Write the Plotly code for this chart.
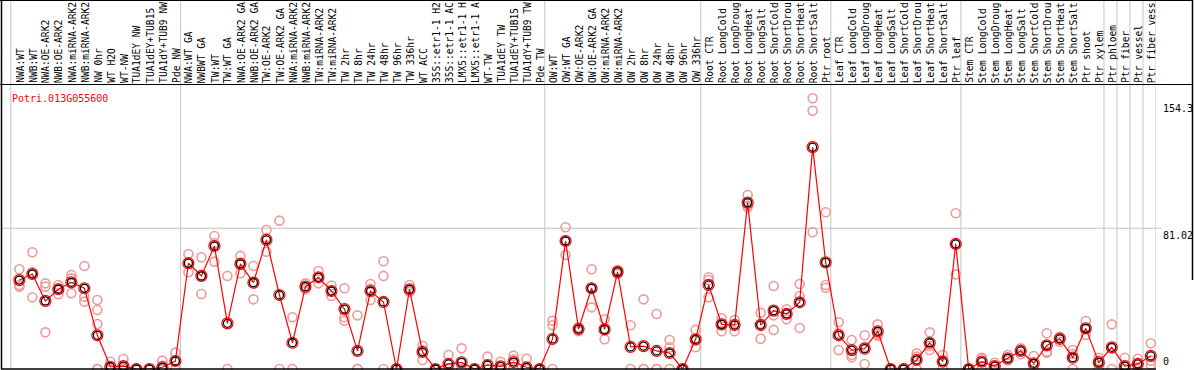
import plotly.graph_objects as go

gene = "Potri.013G055600"

categories = [
    "NWA:WT", "NWB:WT", "NWA:OE-ARK2", "NWB:OE-ARK2", "NWA:miRNA-ARK2", "NWB:miRNA-ARK2",
    "NW 0hr", "WT H2O", "WT-NW", "TUA1dEY NW", "TUA1dEY+TUB15 NW", "TUA1dY+TUB9 NW", "Pde NW",
    "NWA:WT GA", "NWBWT GA", "TW:WT", "TW:WT GA", "NWA:OE-ARK2 GA", "NWB:OE-ARK2 GA",
    "TW:OE-ARK2", "TW:OE-ARK2 GA", "NWA:miRNA-ARK2 GA", "NWB:miRNA-ARK2 GA", "TW:miRNA-ARK2",
    "TW:miRNA-ARK2 GA", "TW 2hr", "TW 8hr", "TW 24hr", "TW 48hr", "TW 96hr", "TW 336hr",
    "WT ACC", "35S::etr1-1 H2O", "35S::etr1-1 ACC", "LMX5::etr1-1 H2O", "LMX5::etr1-1 ACC",
    "WT-TW", "TUA1dEY TW", "TUA1dEY+TUB15 TW", "TUA1dY+TUB9 TW", "Pde TW",
    "OW:WT", "OW:WT GA", "OW:OE-ARK2", "OW:OE-ARK2 GA", "OW:miRNA-ARK2", "OW:miRNA-ARK2 GA",
    "OW 2hr", "OW 8hr", "OW 24hr", "OW 48hr", "OW 96hr", "OW 336hr",
    "Root CTR", "Root LongCold", "Root LongDrought", "Root LongHeat", "Root LongSalt",
    "Root ShortCold", "Root ShortDrought", "Root ShortHeat", "Root ShortSalt", "Ptr root",
    "Leaf CTR", "Leaf LongCold", "Leaf LongDrought", "Leaf LongHeat", "Leaf LongSalt",
    "Leaf ShortCold", "Leaf ShortDrought", "Leaf ShortHeat", "Leaf ShortSalt", "Ptr leaf",
    "Stem CTR", "Stem LongCold", "Stem LongDrought", "Stem LongHeat", "Stem LongSalt",
    "Stem ShortCold", "Stem ShortDrought", "Stem ShortHeat", "Stem ShortSalt", "Ptr shoot",
    "Ptr xylem", "Ptr phloem", "Ptr fiber", "Ptr vessel", "Ptr fiber vessel",
]

mean_values = [
    51.2, 54.7, 39.2, 45.9, 49.9, 46.5, 19.4, 1.3, 1.7, 0, 0, 1.0, 4.6,
    60.9, 53.6, 70.8, 26.3, 60.5, 49.7, 74.3, 42.6, 15.1, 47.4, 52.8, 44.9, 34.5, 10.4,
    44.9, 38.6, 0, 45.9, 9.8, 0, 2.9, 3.8, 0, 2.3, 1.5, 4.0, 1.0, 0,
    17.3, 73.7, 23.0, 46.5, 22.8, 55.9, 12.7, 13.2, 10.4, 9.2, 0, 17.1,
    48.4, 25.7, 25.3, 95.8, 25.3, 33.6, 31.7, 38.4, 127.7, 61.4,
    19.4, 10.9, 11.7, 21.7, 0, 0, 5.2, 15.1, 4.2, 72.0,
    0, 4.2, 1.7, 6.2, 10.4, 3.3, 13.6, 17.4, 6.5, 23.4,
    3.8, 12.5, 1.7, 2.9, 7.5,
]

replicate_values = [
    [57.4, 48.4, 47.4], [67.2, 41.3, 55.6], [49.3, 47.4, 21.1], [48.4, 43.0, 46.3],
    [54.1, 52.2, 43.6], [59.3, 41.6, 38.8], [39.7, 34.0, 25.9, 0, 0], [4.2, 0, 0],
    [5.8, 0, 0], [0, 0, 0], [0, 0, 0], [4.8, 1.9, 0], [9.4, 4.4, 0],
    [66.2, 55.7, 61.0], [64.3, 43.2, 53.3], [76.6, 72.4, 61.8], [53.6, 0],
    [65.1, 55.1, 61.3], [59.3, 40.1, 49.7], [80.0, 67.5, 75.4], [85.4, 0],
    [29.8, 0], [49.3, 45.9, 47.0], [56.4, 49.3, 52.7], [48.0, 42.0, 44.7],
    [46.5, 29.8, 27.8], [30.9, 0, 0], [48.9, 39.7, 46.1], [62.0, 53.6, 0], [0, 0, 0],
    [48.4, 44.5, 44.8], [13.4, 5.2, 10.8], [0, 0, 0], [8.1, 0, 0.6], [11.9, 0, 0],
    [0, 0, 0], [7.1, 0, 0], [4.2, 0, 0], [7.7, 5.6, 0], [5.9, 0, 0], [0, 0, 0],
    [27.8, 25.2, 0], [81.6, 65.6, 74.0], [24.0, 21.7, 23.3], [57.4, 35.5, 46.6],
    [28.6, 17.1, 22.7], [57.0, 54.7, 56.0], [25.2, 0], [40.1, 0, 0], [31.7, 0, 0],
    [16.7, 12.5, 0], [0, 0, 0], [22.5, 12.5, 16.3],
    [52.8, 51.2, 41.3], [29.2, 21.7, 26.2], [28.2, 21.7, 26.0], [100.2, 93.1, 94.1],
    [32.4, 17.4, 26.1], [47.8, 30.9, 22.5], [34.4, 28.6, 32.1], [48.9, 42.0, 23.6],
    [155.9, 148.7, 78.7], [90.2, 48.4, 46.8],
    [26.9, 20.6, 10.9], [16.7, 8.1, 6.7], [19.4, 2.9, 12.8], [25.7, 19.2, 20.2],
    [0, 0, 0], [0, 0, 0], [9.0, 7.1, 0], [21.1, 10.9, 13.3], [8.1, 5.2, 0],
    [89.7, 54.5, 71.8],
    [0, 0, 0], [6.5, 0, 6.1], [3.6, 0, 1.5], [8.1, 5.6, 4.9], [11.9, 8.5, 10.8],
    [7.5, 0, 2.4], [20.6, 10.0, 9.4], [18.6, 15.7, 17.9], [10.9, 0, 8.6],
    [27.6, 19.6, 23.0],
    [6.5, 0, 4.9], [25.7, 0, 11.8], [6.5, 0, 0], [5.9, 3.6, 0], [14.8, 4.8, 2.3],
]

# group separators (positions between categories)
separators = [-0.66, 12.4, 40.4, 52.4, 62.4, 72.4, 83.4, 84.4, 85.4, 86.4, 87.4]
y_tick_values = [0, 81.02, 154.3]
y_tick_labels = ["0", "81.02", "154.3"]
LABEL_CHARS = 14  # visible length of the column headers

FONT = "DejaVu Sans Mono"
W, H = 1194, 370
ML, MR, MT, MB = 1, 38, 85, 1
PW = W - ML - MR
PH = H - MT - MB

xs = list(range(len(categories)))
rep_x, rep_y = [], []
for i, vals in enumerate(replicate_values):
    for v in vals:
        rep_x.append(i)
        rep_y.append(v)

fig = go.Figure()
fig.add_trace(go.Scatter(
    x=rep_x, y=rep_y, mode="markers", cliponaxis=False,
    marker=dict(symbol="circle-open", size=9, color="#ee9a9a", line=dict(width=1.6, color="#ee9a9a")),
    hoverinfo="skip", showlegend=False,
))
fig.add_trace(go.Scatter(
    x=xs, y=mean_values, mode="lines+markers", cliponaxis=False,
    line=dict(color="#ff0000", width=1.2),
    marker=dict(symbol="circle-open", size=11, color="#ff0000", line=dict(width=1.2, color="#ff0000")),
    showlegend=False,
))
fig.add_trace(go.Scatter(
    x=xs, y=mean_values, mode="markers", cliponaxis=False,
    marker=dict(symbol="circle-open", size=8, color="#000000", line=dict(width=1.3, color="#000000")),
    showlegend=False,
))

shapes = []
top_paper = (H - MB) / PH  # top of page in paper coords
for s in separators:
    shapes.append(dict(type="line", xref="x", yref="paper", x0=s, x1=s, y0=0, y1=top_paper,
                       line=dict(color="#c4c4c4", width=1), layer="below"))
# horizontal grid at middle tick
shapes.append(dict(type="line", xref="paper", yref="y", x0=0, x1=(1162 - ML) / PW,
                   y0=y_tick_values[1], y1=y_tick_values[1], line=dict(color="#c4c4c4", width=1), layer="below"))
# frame lines
shapes.append(dict(type="line", xref="paper", yref="paper", x0=-ML / PW, x1=(1193 - ML) / PW,
                   y0=1 + 0.5 / PH, y1=1 + 0.5 / PH, line=dict(color="black", width=1)))
shapes.append(dict(type="line", xref="paper", yref="paper", x0=-ML / PW, x1=(1193 - ML) / PW,
                   y0=top_paper - 0.5 / PH, y1=top_paper - 0.5 / PH, line=dict(color="black", width=1)))
shapes.append(dict(type="line", xref="paper", yref="paper", x0=0.5 / PW, x1=0.5 / PW,
                   y0=0, y1=top_paper, line=dict(color="black", width=1.5)))
shapes.append(dict(type="line", xref="paper", yref="paper", x0=(1192.5 - ML) / PW, x1=(1192.5 - ML) / PW,
                   y0=(H - MB - 280) / PH, y1=top_paper, line=dict(color="black", width=1.5)))
shapes.append(dict(type="line", xref="paper", yref="paper", x0=0, x1=1,
                   y0=0, y1=0, line=dict(color="black", width=1.5)))

annotations = []
for i, c in enumerate(categories):
    annotations.append(dict(x=i, y=1 + 1 / PH, xref="x", yref="paper", text=c[:LABEL_CHARS], showarrow=False,
                            textangle=-90, xanchor="center", yanchor="bottom", borderpad=0, xshift=1,
                            font=dict(family=FONT, size=9.6, color="black")))
annotations.append(dict(x=9 / PW, y=(H - MB - 91) / PH, xref="paper", yref="paper", text=gene,
                        showarrow=False, xanchor="left", yanchor="top",
                        font=dict(family=FONT, size=10, color="#ff0000")))
for v, t in zip(y_tick_values, y_tick_labels):
    annotations.append(dict(x=(1161 - ML) / PW, y=v, xref="paper", yref="y", text=t, showarrow=False,
                            xanchor="left", yanchor="bottom" if v == 0 else "top",
                            font=dict(family=FONT, size=10, color="black")))

fig.update_layout(
    width=W, height=H,
    margin=dict(l=ML, r=MR, t=MT, b=MB, pad=0),
    paper_bgcolor="white", plot_bgcolor="white",
    xaxis=dict(range=[-1.41, 87.4], showgrid=False, zeroline=False, showticklabels=False,
               ticks="", showline=False, fixedrange=True),
    yaxis=dict(range=[0, 163.5], showgrid=False, zeroline=False, showticklabels=False,
               ticks="", showline=False, fixedrange=True),
    shapes=shapes, annotations=annotations, showlegend=False,
)

fig.write_html("out.html", config={"displayModeBar": False},
               post_script="document.body.style.margin='0';document.body.style.overflow='hidden';")
